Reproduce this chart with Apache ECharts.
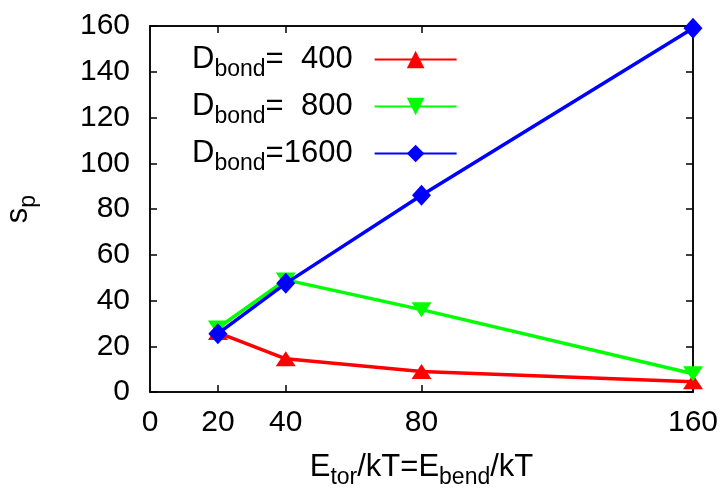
<!DOCTYPE html>
<html>
<head>
<meta charset="utf-8">
<script src="https://cdn.jsdelivr.net/npm/echarts@6/dist/echarts.min.js"></script>
<style>
  html, body { margin: 0; padding: 0; background: #fff; }
  #chart { width: 726px; height: 490px; }
</style>
</head>
<body>
<div id="chart"></div>
<script>
// Persistence length s_p versus bending/torsion energy for three bond stiffnesses
const energies = [20, 40, 80, 160];
const sp400 = [26, 14.5, 9, 4.5];
const sp800 = [28, 49, 36, 8];
const sp1600 = [25.5, 47.5, 86, 159];
const bondLabels = ['400', '800', '1600'];
const xTickValues = [20, 40, 80, 160];
const xLabelValues = [0, 20, 40, 80, 160];

const FONT = "'Liberation Sans', Arial, sans-serif";
const MAIN = 31;
const SUB = 23;

const richStyles = {
  m: { fontSize: MAIN, fontFamily: FONT, color: '#000' },
  s: { fontSize: SUB, fontFamily: FONT, color: '#000', padding: [20, 0, 0, 0] },
  g: { width: 17 }
};

function pairs(values) {
  return energies.map((e, i) => [e, values[i]]);
}

// Right-align the numbers: two spaces equal one digit width
function legendName(label) {
  const pad = ' '.repeat(Math.max(0, 4 - label.length) * 2);
  return 'D_bond=' + pad + label;
}

const names = bondLabels.map(legendName);

const chart = echarts.init(document.getElementById('chart'), null, { renderer: 'canvas' });

function frameLine() {
  return { show: true, onZero: false, lineStyle: { color: '#000', width: 1.5 } };
}
function innerTick(values) {
  const t = { show: true, inside: true, length: 7, lineStyle: { color: '#000', width: 1.5 } };
  if (values) t.customValues = values;
  return t;
}
const LINE_W = 3.5;

chart.setOption({
  animation: false,
  backgroundColor: '#fff',
  grid: {
    left: 150, right: 33, top: 26, bottom: 98,
    outerBoundsMode: 'none',
    show: true,
    borderColor: '#000',
    borderWidth: 1.5,
    backgroundColor: 'transparent'
  },
  legend: {
    orient: 'vertical',
    left: 192,
    top: 44,
    padding: 0,
    itemGap: 10,
    align: 'right',
    itemWidth: 82,
    itemHeight: 22,
    data: names,
    textStyle: { fontSize: MAIN, fontFamily: FONT, color: '#000', rich: richStyles },
    formatter: function (name) {
      const rest = name.slice('D_bond'.length);
      return '{m|D}{s|bond}{m|' + rest + '}{g| }';
    }
  },
  xAxis: [
    {
      type: 'value',
      position: 'bottom',
      min: 0,
      max: 160,
      interval: 20,
      axisLine: frameLine(),
      axisTick: innerTick(xTickValues),
      axisLabel: {
        customValues: xLabelValues,
        margin: 16,
        fontSize: 30,
        fontFamily: FONT,
        color: '#000'
      },
      splitLine: { show: false },
      name: '{m|E}{s|tor}{m|/kT=E}{s|bend}{m|/kT}',
      nameLocation: 'middle',
      nameGap: 54,
      nameTextStyle: { rich: richStyles }
    },
    {
      type: 'value',
      position: 'top',
      min: 0,
      max: 160,
      interval: 20,
      axisLine: frameLine(),
      axisTick: innerTick([20, 40, 80]),
      axisLabel: { show: false },
      splitLine: { show: false }
    }
  ],
  yAxis: [
    {
      type: 'value',
      position: 'left',
      min: 0,
      max: 160,
      interval: 20,
      axisLine: frameLine(),
      axisTick: innerTick(),
      axisLabel: { margin: 20, fontSize: 30, fontFamily: FONT, color: '#000' },
      splitLine: { show: false },
      name: '{m|s}{s|p}',
      nameLocation: 'middle',
      nameGap: 110,
      nameTextStyle: { rich: richStyles }
    },
    {
      type: 'value',
      position: 'right',
      min: 0,
      max: 160,
      interval: 20,
      axisLine: frameLine(),
      axisTick: innerTick(),
      axisLabel: { show: false },
      splitLine: { show: false }
    }
  ],
  series: [
    {
      name: names[0],
      type: 'line',
      xAxisIndex: 1,
      yAxisIndex: 1,
      data: pairs(sp400),
      clip: false,
      symbol: 'triangle',
      symbolSize: [20, 15],
      color: '#ff0000',
      lineStyle: { width: LINE_W, color: '#ff0000' },
      itemStyle: { color: '#ff0000' },
      z: 2
    },
    {
      name: names[1],
      type: 'line',
      data: pairs(sp800),
      clip: false,
      symbol: 'triangle',
      symbolRotate: 180,
      symbolSize: [20, 15],
      color: '#00ff00',
      lineStyle: { width: LINE_W, color: '#00ff00' },
      itemStyle: { color: '#00ff00' },
      z: 3
    },
    {
      name: names[2],
      type: 'line',
      data: pairs(sp1600),
      clip: false,
      symbol: 'diamond',
      symbolSize: [19, 21],
      color: '#0000ff',
      lineStyle: { width: LINE_W, color: '#0000ff' },
      itemStyle: { color: '#0000ff' },
      z: 4
    }
  ]
});
</script>
</body>
</html>
